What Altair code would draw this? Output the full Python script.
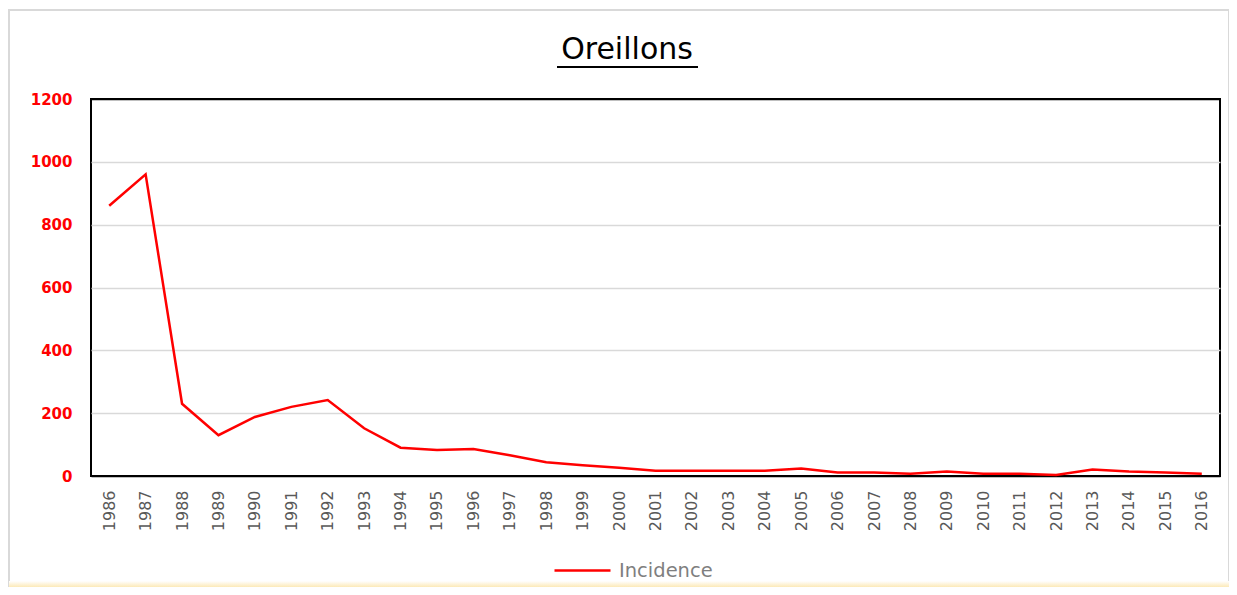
import altair as alt
import pandas as pd

years = list(range(1986, 2017))
incidence = [860, 960, 230, 130, 188, 220, 242, 152, 90, 83, 86, 66, 44, 34, 26,
             17, 17, 17, 17, 24, 11, 11, 7, 14, 7, 7, 3, 21, 14, 11, 7]
series_name = "Incidence"
y_ticks = [0, 200, 400, 600, 800, 1000, 1200]
title_text = "Oreillons"

df = pd.DataFrame({"year": years, "value": incidence, "series": [series_name] * len(years)})

W, H = 1129, 377

line = alt.Chart(df).mark_line(strokeWidth=2.5).encode(
    x=alt.X("year:O", scale=alt.Scale(type="point", padding=0.5),
            axis=alt.Axis(title=None, labelAngle=-90, labelPadding=14, ticks=False,
                          domain=False, labelColor="#595959", labelFont="DejaVu Sans",
                          labelFontSize=16, grid=False)),
    y=alt.Y("value:Q", scale=alt.Scale(domain=[0, 1200], nice=False),
            axis=alt.Axis(title=None, values=y_ticks, format="d", ticks=False, domain=False,
                          labelPadding=19, labelColor="#ff0000", labelFont="DejaVu Sans",
                          labelFontWeight="bold", labelFontSize=15,
                          gridColor={"condition": {"test": "datum.value == 0 || datum.value == 1200",
                                                   "value": "#000000"},
                                     "value": "#d9d9d9"},
                          gridWidth=1.5)),
    color=alt.Color("series:N", scale=alt.Scale(domain=[series_name], range=["#ff0000"]),
                    legend=alt.Legend(title=None, orient="none", legendX=462, legendY=442,
                                      symbolType="stroke", symbolSize=3136, symbolStrokeWidth=2.5,
                                      labelFont="DejaVu Sans", labelFontSize=19.5,
                                      labelColor="#7f7f7f", labelOffset=7, padding=0)),
)

one = alt.Data(values=[{"t": title_text}])

title = alt.Chart(one).mark_text(font="DejaVu Sans", fontSize=30, color="#000000",
                                 align="center", baseline="alphabetic").encode(
    x=alt.value(536), y=alt.value(-40), text="t:N")

underline = alt.Chart(one).mark_rule(color="#000000", strokeWidth=2).encode(
    x=alt.value(466), x2=alt.value(607), y=alt.value(-32))

frame = alt.Chart(one).mark_rect(fillOpacity=0, stroke="#d9d9d9", strokeWidth=2).encode(
    x=alt.value(-82), x2=alt.value(1138), y=alt.value(-89), y2=alt.value(492))

glow = alt.Chart(one).mark_rect(
    fill=alt.Gradient(gradient="linear", x1=0, y1=0, x2=0, y2=1,
                      stops=[alt.GradientStop(offset=0, color="#ffffff"),
                             alt.GradientStop(offset=1, color="#fbe3a0")])
).encode(x=alt.value(-82), x2=alt.value(1138), y=alt.value(482), y2=alt.value(490))

chart = alt.layer(frame, glow, line, title, underline).properties(
    width=W, height=H,
    background="#ffffff",
    padding={"left": 83, "top": 91, "right": 9, "bottom": 111},
    autosize=alt.AutoSizeParams(type="none"),
).configure_view(stroke="#000000", strokeWidth=2)

chart.save("out.html", embed_options={"renderer": "svg", "actions": False})
